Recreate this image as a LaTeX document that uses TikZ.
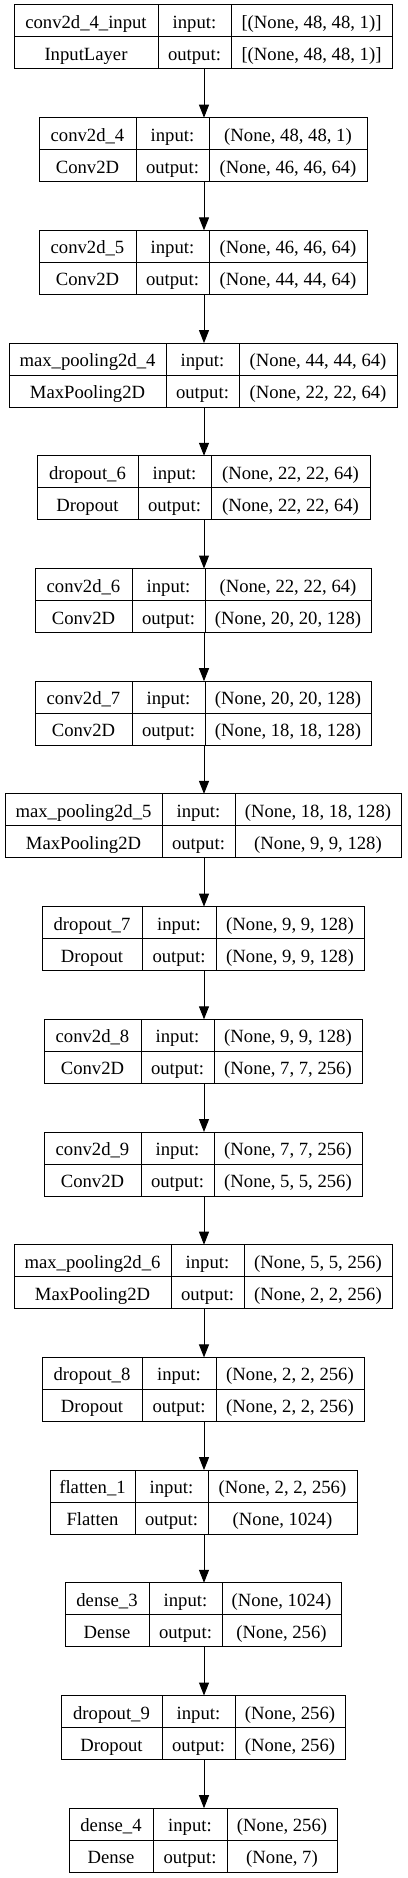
\documentclass[tikz,border=0pt]{standalone}
\usepackage{fontspec}
\setmainfont{Liberation Serif}
\newfontfamily\graphfont{Liberation Serif}
\usetikzlibrary{arrows.meta}
\tikzset{
  lbox/.style={draw=black, line width=1pt, rectangle, inner sep=0pt, outer sep=0pt, anchor=north west},
  celltext/.style={inner sep=0pt, outer sep=0pt, anchor=base, font=\graphfont\fontsize{18.67}{22}\selectfont},
  divider/.style={draw=black, line width=1pt},
  flow/.style={draw=black, line width=1pt, -{Triangle[length=13pt,width=10pt]}},
}
% #1 index, #2 left, #3 first divider, #4 second divider, #5 right,
% #6 layer name, #7 layer type, #8 input shape, #9 output shape
\newcommand{\layerbox}[9]{%
  \pgfmathsetmacro{\yt}{5+112.7*#1}%
  \node[lbox, minimum width={(#5-#2)*1pt}, minimum height=64pt] (b#1) at (#2,\yt) {};
  \draw[divider] (#2,{\yt+32}) -- (#5,{\yt+32});
  \draw[divider] (#3,\yt) -- (#3,{\yt+64});
  \draw[divider] (#4,\yt) -- (#4,{\yt+64});
  \node[celltext] (b#1-name) at ({(#2+#3)/2},{\yt+23.5}) {#6};
  \node[celltext] (b#1-type) at ({(#2+#3)/2},{\yt+55.5}) {#7};
  \node[celltext] (b#1-inl) at ({(#3+#4)/2},{\yt+23.5}) {input:};
  \node[celltext] (b#1-outl) at ({(#3+#4)/2},{\yt+55.5}) {output:};
  \node[celltext] (b#1-in) at ({(#4+#5)/2},{\yt+23.5}) {#8};
  \node[celltext] (b#1-out) at ({(#4+#5)/2},{\yt+55.5}) {#9};
}
\begin{document}
\begin{tikzpicture}[x=1pt, y=-1pt]
\useasboundingbox[fill=white] (0,0) rectangle (407,1878);
\coordinate (ax) at (204,0);
\layerbox{0}{14}{158}{231}{392}{conv2d\_4\_input}{InputLayer}{[(None, 48, 48, 1)]}{[(None, 48, 48, 1)]}
\layerbox{1}{39}{136}{209}{367}{conv2d\_4}{Conv2D}{(None, 48, 48, 1)}{(None, 46, 46, 64)}
\layerbox{2}{39}{136}{209}{367}{conv2d\_5}{Conv2D}{(None, 46, 46, 64)}{(None, 44, 44, 64)}
\layerbox{3}{9}{166}{239}{397}{max\_pooling2d\_4}{MaxPooling2D}{(None, 44, 44, 64)}{(None, 22, 22, 64)}
\layerbox{4}{37}{138}{211}{370}{dropout\_6}{Dropout}{(None, 22, 22, 64)}{(None, 22, 22, 64)}
\layerbox{5}{35}{132}{205}{371}{conv2d\_6}{Conv2D}{(None, 22, 22, 64)}{(None, 20, 20, 128)}
\layerbox{6}{35}{132}{205}{371}{conv2d\_7}{Conv2D}{(None, 20, 20, 128)}{(None, 18, 18, 128)}
\layerbox{7}{5}{162}{235}{401}{max\_pooling2d\_5}{MaxPooling2D}{(None, 18, 18, 128)}{(None, 9, 9, 128)}
\layerbox{8}{42}{142}{216}{364}{dropout\_7}{Dropout}{(None, 9, 9, 128)}{(None, 9, 9, 128)}
\layerbox{9}{44}{141}{214}{362}{conv2d\_8}{Conv2D}{(None, 9, 9, 128)}{(None, 7, 7, 256)}
\layerbox{10}{44}{141}{214}{362}{conv2d\_9}{Conv2D}{(None, 7, 7, 256)}{(None, 5, 5, 256)}
\layerbox{11}{14}{171}{244}{392}{max\_pooling2d\_6}{MaxPooling2D}{(None, 5, 5, 256)}{(None, 2, 2, 256)}
\layerbox{12}{42}{142}{216}{364}{dropout\_8}{Dropout}{(None, 2, 2, 256)}{(None, 2, 2, 256)}
\layerbox{13}{50}{135}{208}{357}{flatten\_1}{Flatten}{(None, 2, 2, 256)}{(None, 1024)}
\layerbox{14}{65}{149}{222}{341}{dense\_3}{Dense}{(None, 1024)}{(None, 256)}
\layerbox{15}{61}{162}{235}{345}{dropout\_9}{Dropout}{(None, 256)}{(None, 256)}
\layerbox{16}{69}{153}{227}{337}{dense\_4}{Dense}{(None, 256)}{(None, 7)}
\foreach \i [evaluate=\i as \j using int(\i+1)] in {0,...,15} {
  \draw[flow] (b\i.south -| ax) -- (b\j.north -| ax);
}
\end{tikzpicture}
\end{document}
